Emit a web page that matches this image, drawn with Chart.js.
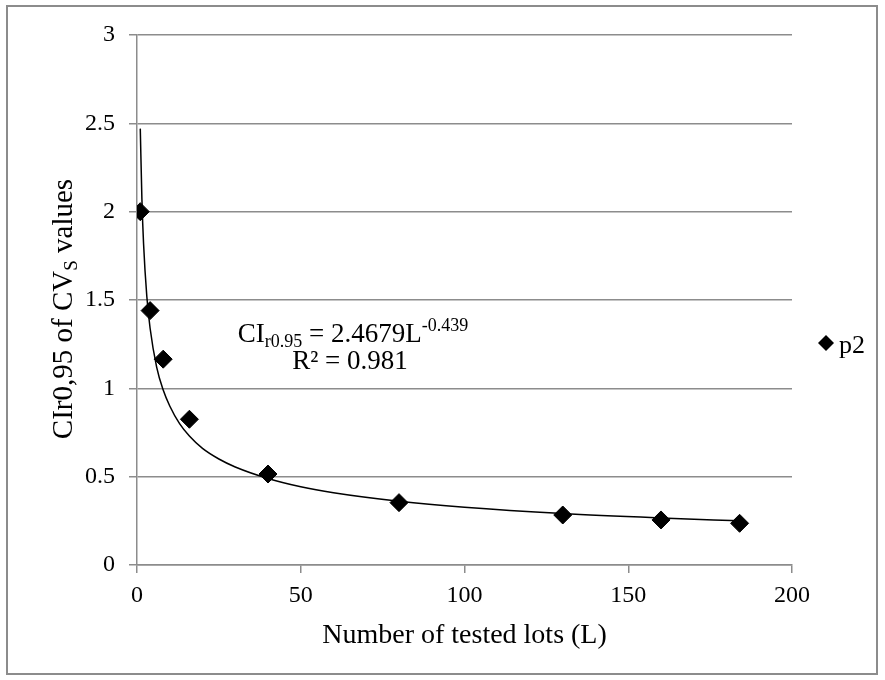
<!DOCTYPE html>
<html>
<head>
<meta charset="utf-8">
<title>CI r0.95 of CVs values</title>
<script src="https://cdn.jsdelivr.net/npm/chart.js@4.4.1/dist/chart.umd.min.js"></script>
<style>
  body { margin: 0; background: #fff; }
  #wrap { width: 885px; height: 680px; position: relative; }
</style>
</head>
<body>
<div id="wrap"><canvas id="ciChart"></canvas></div>
<script>
// ===== DADOS =====
const lotes = [1, 4, 8, 16, 40, 80, 130, 160, 184];
const ciValores = [2.00, 1.44, 1.165, 0.825, 0.515, 0.353, 0.283, 0.255, 0.236];

// curva de tendência
const tendLotes = [1, 1.5, 2, 3, 4, 6, 8, 10, 13, 16, 20, 25, 30, 40, 50, 60, 80, 100, 130, 160, 184];
const tendValores = [2.47, 2.07, 1.82, 1.52, 1.34, 1.12, 0.99, 0.90, 0.80, 0.73, 0.66, 0.60, 0.555, 0.49, 0.443, 0.409, 0.361, 0.327, 0.291, 0.266, 0.25];

const xTicks = [0, 50, 100, 150, 200];
const yTicks = [0, 0.5, 1, 1.5, 2, 2.5, 3];

const serieNome = "p2";
const tituloX = "Number of tested lots (L)";

const FONTE = "'Liberation Serif', 'Times New Roman', serif";
const CINZA = "#8c8c8c";

// ===== TEXTOS EXTRAS (titulo Y, equação, legenda, moldura) =====
const extrasPlugin = {
  id: "extras",
  beforeDraw(chart) {
    const ctx = chart.ctx;
    ctx.save();
    ctx.fillStyle = "#fff";
    ctx.fillRect(0, 0, chart.width, chart.height);
    ctx.strokeStyle = CINZA;
    ctx.lineWidth = 2;
    ctx.strokeRect(7, 6, 870, 668);
    ctx.restore();
  },
  afterDraw(chart) {
    const ctx = chart.ctx;
    ctx.save();
    ctx.fillStyle = "#000";
    ctx.textBaseline = "alphabetic";

    // titulo do eixo Y com subscrito
    const big = "29px " + FONTE;
    const small = "19px " + FONTE;
    ctx.font = big;
    const p1 = "CIr0,95 of CV";
    const p3 = " values";
    const w1 = ctx.measureText(p1).width;
    const w3 = ctx.measureText(p3).width;
    ctx.font = small;
    const w2 = ctx.measureText("S").width;
    const total = w1 + w2 + w3;
    ctx.translate(72, 309);
    ctx.rotate(-Math.PI / 2);
    let x = -total / 2;
    ctx.font = big;
    ctx.fillText(p1, x, 0);
    x += w1;
    ctx.font = small;
    ctx.fillText("S", x, 5);
    x += w2;
    ctx.font = big;
    ctx.fillText(p3, x, 0);
    ctx.setTransform(1, 0, 0, 1, 0, 0);

    // equação da tendência
    const eqF = "27px " + FONTE;
    const eqS = "18px " + FONTE;
    const partes = [
      { t: "CI", f: eqF, dy: 0 },
      { t: "r0.95", f: eqS, dy: 5 },
      { t: " = 2.4679L", f: eqF, dy: 0 },
      { t: "-0.439", f: eqS, dy: -11 }
    ];
    let larg = 0;
    partes.forEach(p => { ctx.font = p.f; p.w = ctx.measureText(p.t).width; larg += p.w; });
    x = 353 - larg / 2;
    partes.forEach(p => {
      ctx.font = p.f;
      ctx.fillText(p.t, x, 342 + p.dy);
      x += p.w;
    });
    ctx.font = eqF;
    ctx.textAlign = "center";
    ctx.fillText("R² = 0.981", 350, 369);

    // legenda
    ctx.textAlign = "left";
    ctx.beginPath();
    ctx.moveTo(826, 335);
    ctx.lineTo(834, 343);
    ctx.lineTo(826, 351);
    ctx.lineTo(818, 343);
    ctx.closePath();
    ctx.fill();
    ctx.font = "26px " + FONTE;
    ctx.fillText(chart.data.datasets[0].label, 839, 353);
    ctx.restore();
  }
};

// ===== GRÁFICO =====
new Chart(document.getElementById("ciChart"), {
  type: "scatter",
  data: {
    datasets: [
      {
        label: serieNome,
        data: lotes.map((l, i) => ({ x: l, y: ciValores[i] })),
        pointStyle: "rectRot",
        pointRadius: 9,
        pointHoverRadius: 9,
        backgroundColor: "#000",
        borderColor: "#000",
        order: 0
      },
      {
        label: "tendencia",
        data: tendLotes.map((l, i) => ({ x: l, y: tendValores[i] })),
        showLine: true,
        pointRadius: 0,
        borderColor: "#000",
        borderWidth: 1.5,
        cubicInterpolationMode: "monotone",
        fill: false,
        order: 1
      }
    ]
  },
  options: {
    responsive: true,
    maintainAspectRatio: false,
    animation: false,
    layout: { padding: { top: 35, right: 93, bottom: 0, left: 0 } },
    plugins: {
      legend: { display: false },
      tooltip: { enabled: false }
    },
    scales: {
      x: {
        type: "linear",
        min: xTicks[0],
        max: xTicks[xTicks.length - 1],
        afterBuildTicks: (s) => { s.ticks = xTicks.map(v => ({ value: v })); },
        afterFit: (s) => { s.height = 115; },
        grid: { drawOnChartArea: false, drawTicks: true, tickLength: 8, color: CINZA, lineWidth: 1.5 },
        border: { display: true, color: CINZA, width: 1.5 },
        ticks: { color: "#000", font: { family: FONTE, size: 24 }, padding: 8, maxRotation: 0 },
        title: {
          display: true,
          text: tituloX,
          color: "#000",
          font: { family: FONTE, size: 28 },
          padding: { top: 0, bottom: 28 }
        }
      },
      y: {
        type: "linear",
        min: yTicks[0],
        max: yTicks[yTicks.length - 1],
        afterBuildTicks: (s) => { s.ticks = yTicks.map(v => ({ value: v })); },
        afterFit: (s) => { s.width = 137; },
        grid: { color: CINZA, lineWidth: 1.5, tickLength: 8, drawTicks: true },
        border: { display: true, color: CINZA, width: 1.5 },
        ticks: {
          color: "#000",
          font: { family: FONTE, size: 24 },
          padding: 14,
          callback: (v) => String(v)
        }
      }
    }
  },
  plugins: [extrasPlugin]
});
</script>
</body>
</html>
